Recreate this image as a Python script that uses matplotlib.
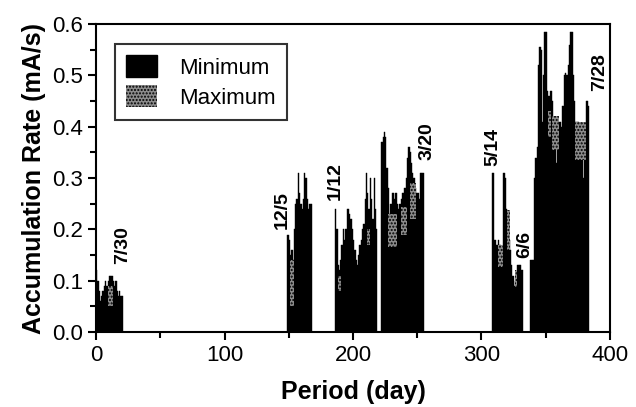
import numpy as np
import matplotlib
matplotlib.use("Agg")
import matplotlib.pyplot as plt
from matplotlib.patches import Patch

plt.rcParams['font.family'] = ['Liberation Sans', 'DejaVu Sans']
plt.rcParams['hatch.linewidth'] = 1.0

# daily accumulation rate, one block per measuring period (start day, values)
jul_start = 0
jul_vals = [0.12, 0.10, 0.08, 0.06, 0.07, 0.08, 0.09, 0.10, 0.09, 0.10, 0.11,
            0.11, 0.11, 0.10, 0.09, 0.10, 0.08, 0.07, 0.08, 0.07, 0.07]

dec_start = 149
dec_vals = [0.19, 0.18, 0.15, 0.16, 0.14, 0.20, 0.25, 0.26, 0.31, 0.27,
            0.25, 0.24, 0.26, 0.31, 0.30, 0.26, 0.24, 0.25, 0.25]

jan_start = 186
jan_vals = [0.24, 0.20, 0.13, 0.12, 0.14, 0.17, 0.20, 0.18, 0.20, 0.24,
            0.24, 0.23, 0.22, 0.20, 0.18, 0.16, 0.14, 0.13, 0.15, 0.17,
            0.18, 0.20, 0.21, 0.26, 0.31, 0.27, 0.24, 0.30, 0.26, 0.22,
            0.30, 0.24, 0.20, 0.0, 0.0, 0.0, 0.37, 0.38, 0.39, 0.38,
            0.32, 0.28, 0.23, 0.25, 0.27, 0.27, 0.26, 0.27, 0.25, 0.24,
            0.25, 0.26, 0.27, 0.27, 0.28, 0.30, 0.34, 0.36, 0.35, 0.33,
            0.31, 0.30, 0.28, 0.27, 0.27, 0.26, 0.31, 0.31, 0.31]

may_start = 308
may_vals = [0.31, 0.31, 0.18, 0.17, 0.17, 0.18, 0.17, 0.16, 0.15, 0.31,
            0.30, 0.24, 0.23, 0.18, 0.16, 0.13, 0.11, 0.09, 0.10, 0.11,
            0.13, 0.13, 0.13, 0.12]

jun_start = 338
jun_vals = [0.14, 0.14, 0.14, 0.30, 0.34, 0.36, 0.52, 0.556, 0.55, 0.41,
            0.50, 0.585, 0.585, 0.47, 0.46, 0.47, 0.47, 0.45, 0.40, 0.36,
            0.33, 0.37, 0.41, 0.41, 0.40, 0.44, 0.50, 0.505, 0.50, 0.52,
            0.56, 0.585, 0.585, 0.50, 0.45, 0.41, 0.41, 0.41, 0.40, 0.38,
            0.36, 0.30, 0.35, 0.45, 0.45, 0.44]

# stippled (maximum) patches: first day, last day, low, high
max_start = [9, 151, 188, 211, 227, 237, 244, 313, 320, 326, 352, 355, 373]
max_end = [12, 153, 190, 212, 233, 241, 248, 316, 321, 327, 353, 359, 380]
max_low = [0.05, 0.05, 0.08, 0.17, 0.166, 0.19, 0.22, 0.127, 0.16, 0.088, 0.38, 0.355, 0.335]
max_high = [0.09, 0.14, 0.11, 0.20, 0.23, 0.244, 0.29, 0.17, 0.238, 0.12, 0.43, 0.42, 0.41]

# date markers
date_labels = ['7/30', '12/5', '1/12', '3/20', '5/14', '6/6', '7/28']
date_x = [21, 145, 186, 258, 309, 334, 392]
date_y = [0.17, 0.238, 0.294, 0.372, 0.36, 0.17, 0.507]

blocks = [(jul_start, jul_vals), (dec_start, dec_vals), (jan_start, jan_vals),
          (may_start, may_vals), (jun_start, jun_vals)]
days = np.concatenate([np.arange(s, s + len(v)) for s, v in blocks])
rates = np.concatenate([v for s, v in blocks])

fig = plt.figure(figsize=(6.36, 4.07), dpi=100)
ax = fig.add_axes([0.151, 0.184, 0.808, 0.757])

ax.bar(days, rates, width=1.0, align='edge', color='black',
       edgecolor='black', linewidth=0.3)

stip_face = '#8c8c8c'
starts = np.array(max_start)
widths = np.array(max_end) - starts + 1
lows = np.array(max_low)
heights = np.array(max_high) - lows
ax.bar(starts, heights, width=widths, bottom=lows, align='edge',
       facecolor=stip_face, edgecolor='black', hatch='.....', linewidth=0)

for lab, x, y in zip(date_labels, date_x, date_y):
    ax.text(x, y, lab, rotation=90, ha='center', va='center',
            fontsize=14, fontweight='bold')

ax.set_xlim(0, 400)
ax.set_ylim(0, 0.6)
ax.set_xticks([0, 100, 200, 300, 400])
ax.set_xticks(np.arange(50, 400, 50), minor=True)
ax.set_yticks(np.arange(0, 0.61, 0.1))
ax.set_yticks(np.arange(0.05, 0.6, 0.1), minor=True)
ax.yaxis.set_major_formatter(matplotlib.ticker.FormatStrFormatter('%.1f'))
ax.tick_params(which='both', direction='out', width=1.5, labelsize=16)
ax.tick_params(which='major', length=6)
ax.tick_params(which='minor', length=4)
for sp in ax.spines.values():
    sp.set_linewidth(1.5)

ax.set_xlabel('Period (day)', fontsize=18, fontweight='bold', labelpad=10)
ax.set_ylabel('Accumulation Rate (mA/s)', fontsize=18, fontweight='bold', labelpad=4)

handles = [Patch(facecolor='black', edgecolor='black', label='Minimum'),
           Patch(facecolor=stip_face, edgecolor='black', hatch='.....',
                 linewidth=0, label='Maximum')]
leg = ax.legend(handles=handles, loc='upper left', fontsize=16, frameon=True,
                fancybox=False, edgecolor='black', handlelength=1.4,
                handleheight=1.1, handletextpad=1.0, borderpad=0.5,
                labelspacing=0.3, bbox_to_anchor=(0.015, 0.97))
leg.get_frame().set_linewidth(1.5)

fig.savefig('out.png', dpi=100)
